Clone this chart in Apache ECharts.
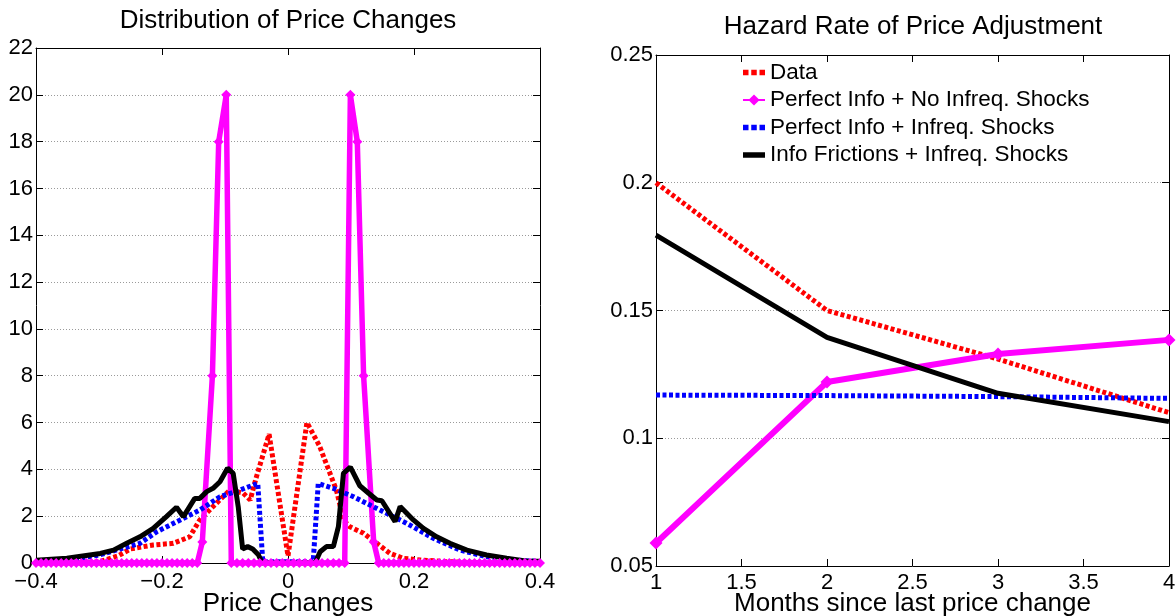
<!DOCTYPE html>
<html>
<head>
<meta charset="utf-8">
<script src="https://cdn.jsdelivr.net/npm/echarts@6/dist/echarts.min.js"></script>
<style>
html,body{margin:0;padding:0;background:#fff;}
#c{width:1176px;height:616px;}
</style>
</head>
<body>
<div id="c"></div>
<script>
// ---------- Left panel: Distribution of Price Changes ----------
const leftXTicks = [-0.4, -0.2, 0, 0.2, 0.4];
const dataDistX = [-0.4, -0.35, -0.3, -0.27, -0.25, -0.214, -0.182, -0.156, -0.14, -0.119, -0.092, -0.071, -0.06, -0.05, -0.03, 0, 0.03, 0.05, 0.077, 0.088, 0.098, 0.12, 0.141, 0.162, 0.183, 0.21, 0.25, 0.3, 0.35, 0.4];
const dataDistY = [0, 0, 0.05, 0.3, 0.6, 0.77, 0.84, 1.12, 1.84, 2.41, 3.12, 2.98, 2.69, 3.69, 5.5, 0.3, 6.0, 5.0, 3.1, 1.84, 1.55, 1.27, 0.84, 0.41, 0.2, 0.13, 0.06, 0.02, 0, 0];

const pinX = [-0.400, -0.392, -0.384, -0.376, -0.368, -0.360, -0.352, -0.344, -0.336, -0.328, -0.320, -0.312, -0.304, -0.296, -0.288, -0.280, -0.272, -0.264, -0.256, -0.248, -0.240, -0.232, -0.224, -0.216, -0.208, -0.200, -0.192, -0.184, -0.176, -0.168, -0.160, -0.152, -0.144,
  -0.136, -0.120, -0.110, -0.098,
  -0.090, -0.081, -0.072, -0.063, -0.054, -0.045, -0.036, -0.027, -0.018, -0.009, 0, 0.009, 0.018, 0.027, 0.036, 0.045, 0.054, 0.063, 0.072, 0.081, 0.090,
  0.099, 0.110, 0.120, 0.136,
  0.144, 0.152, 0.160, 0.168, 0.176, 0.184, 0.192, 0.200, 0.208, 0.216, 0.224, 0.232, 0.240, 0.248, 0.256, 0.264, 0.272, 0.280, 0.288, 0.296, 0.304, 0.312, 0.320, 0.328, 0.336, 0.344, 0.352, 0.360, 0.368, 0.376, 0.384, 0.392, 0.400];
const pinY = [0,0,0,0,0,0,0,0,0,0,0,0,0,0,0,0,0,0,0,0,0,0,0,0,0,0,0,0,0,0,0,0,0,
  0.9, 8, 18, 20,
  0,0,0,0,0,0,0,0,0,0,0,0,0,0,0,0,0,0,0,0,0,
  20, 18, 8, 0.9,
  0,0,0,0,0,0,0,0,0,0,0,0,0,0,0,0,0,0,0,0,0,0,0,0,0,0,0,0,0,0,0,0,0];

const piiX = [-0.4, -0.35, -0.3, -0.235, -0.208, -0.171, -0.14, -0.108, -0.076, -0.048, -0.04, 0, 0.04, 0.048, 0.072, 0.104, 0.146, 0.188, 0.231, 0.273, 0.315, 0.358, 0.4];
const piiY = [0.03, 0.13, 0.34, 0.84, 1.34, 1.84, 2.26, 2.83, 3.12, 3.4, 0.05, 0.05, 0.05, 3.4, 3.19, 2.83, 2.26, 1.7, 1.05, 0.55, 0.27, 0.13, 0.06];

const ifX = [-0.4, -0.351, -0.298, -0.277, -0.256, -0.235, -0.214, -0.193, -0.177, -0.166, -0.148, -0.14, -0.129, -0.119, -0.108, -0.096, -0.087, -0.079, -0.072, -0.064, -0.056, -0.047, -0.041, 0, 0.043, 0.051, 0.061, 0.072, 0.080, 0.088, 0.099, 0.114, 0.128, 0.141, 0.149, 0.170, 0.178, 0.199, 0.215, 0.236, 0.257, 0.284, 0.315, 0.347, 0.379, 0.4];
const ifY = [0.12, 0.2, 0.41, 0.55, 0.84, 1.12, 1.48, 1.98, 2.38, 1.98, 2.76, 2.76, 3.05, 3.19, 3.47, 4.05, 3.83, 2.4, 0.6, 0.7, 0.6, 0.35, 0, 0, 0, 0.48, 0.7, 0.7, 1.55, 3.83, 4.1, 3.3, 2.98, 2.69, 2.66, 1.77, 2.41, 1.84, 1.48, 1.12, 0.84, 0.55, 0.34, 0.2, 0.08, 0.08];

// ---------- Right panel: Hazard Rate ----------
const months = [1, 2, 3, 4];
const hazardData = [0.2, 0.15, 0.131, 0.110];
const hazardPerfectNoInfreq = [0.059, 0.122, 0.133, 0.1385];
const hazardPerfectInfreq = [0.1169, 0.1167, 0.1163, 0.1156];
const hazardFrictions = [0.1795, 0.1395, 0.1176, 0.1065];

const names = ['Data', 'Perfect Info + No Infreq. Shocks', 'Perfect Info + Infreq. Shocks', 'Info Frictions + Infreq. Shocks'];

const FONT = '"Liberation Sans", Arial, Helvetica, sans-serif';
const pairs = (xs, ys) => xs.map((x, i) => [x, ys[i]]);

const axisLine = { show: true, onZero: false, lineStyle: { color: '#000', width: 1 } };
const tickIn = { show: true, inside: true, length: 7, lineStyle: { color: '#000' } };
const gridDots = { show: true, lineStyle: { color: '#9a9a9a', width: 1, type: [1, 2] } };
const lblStyle = { color: '#000', fontSize: 22, fontFamily: FONT };

const fmtX = v => { const r = Math.round(v * 10) / 10; return (r < 0 ? '\u2212' : '') + Math.abs(r); };
const fmtRight = v => String(parseFloat(v.toFixed(2)));
const fmtRightX = v => String(parseFloat(v.toFixed(1)));

const chart = echarts.init(document.getElementById('c'), null, { renderer: 'canvas' });

const redStyle = { color: '#ff0000', width: 5, type: [4, 2.5], cap: 'butt' };
const magStyle = { color: '#ff00ff', width: 5.5 };
const blueStyle = { color: '#0000ff', width: 5, type: [4, 2.5], cap: 'butt' };
const blackStyle = { color: '#000000', width: 5 };

const dashIcon = 'path://M0,0h5v5h-5z M7.5,0h5v5h-5z M15,0h5v5h-5z';
const solidIcon = 'path://M0,0h20v5h-20z';

chart.setOption({
  animation: false,
  backgroundColor: '#fff',
  graphic: [
    { type: 'text', x: 288, y: 21, style: { text: 'Distribution of Price Changes', font: '26px ' + FONT, fill: '#000', textAlign: 'center', textVerticalAlign: 'middle' } },
    { type: 'text', x: 913, y: 27, style: { text: 'Hazard Rate of Price Adjustment', font: '26px ' + FONT, fill: '#000', textAlign: 'center', textVerticalAlign: 'middle' } }
  ],
  legend: {
    orient: 'vertical',
    left: 737, top: 56,
    itemWidth: 22, itemHeight: 14, itemGap: 4.5,
    textStyle: { color: '#000', fontSize: 22.5, fontFamily: FONT, lineHeight: 22 },
    data: [
      { name: names[0], icon: dashIcon, itemStyle: { color: '#ff0000' } },
      { name: names[1] },
      { name: names[2], icon: dashIcon, itemStyle: { color: '#0000ff' } },
      { name: names[3], icon: solidIcon, itemStyle: { color: '#000' } }
    ]
  },
  grid: [
    { left: 36, right: 636, top: 48, bottom: 53, containLabel: false, outerBoundsMode: 'none' },
    { left: 656, right: 7, top: 55, bottom: 50, containLabel: false, outerBoundsMode: 'none' }
  ],
  xAxis: [
    { type: 'value', gridIndex: 0, min: -0.4, max: 0.4, interval: 0.2, position: 'bottom',
      axisLine, axisTick: tickIn, splitLine: { show: false },
      axisLabel: { ...lblStyle, margin: 8, formatter: fmtX, showMinLabel: true, showMaxLabel: true },
      name: 'Price Changes', nameLocation: 'middle', nameGap: 28, nameMoveOverlap: false,
      nameTextStyle: { color: '#000', fontSize: 26, fontFamily: FONT, verticalAlign: 'top' } },
    { type: 'value', gridIndex: 0, min: -0.4, max: 0.4, interval: 0.2, position: 'top',
      axisLine, axisTick: tickIn, splitLine: { show: false }, axisLabel: { show: false } },
    { type: 'value', gridIndex: 1, min: 1, max: 4, interval: 0.5, position: 'bottom',
      axisLine, axisTick: tickIn, splitLine: { show: false },
      axisLabel: { ...lblStyle, margin: 6, formatter: fmtRightX, showMinLabel: true, showMaxLabel: true },
      name: 'Months since last price change', nameLocation: 'middle', nameGap: 25, nameMoveOverlap: false,
      nameTextStyle: { color: '#000', fontSize: 26, fontFamily: FONT, verticalAlign: 'top' } },
    { type: 'value', gridIndex: 1, min: 1, max: 4, interval: 0.5, position: 'top',
      axisLine, axisTick: tickIn, splitLine: { show: false }, axisLabel: { show: false } }
  ],
  yAxis: [
    { type: 'value', gridIndex: 0, min: 0, max: 22, interval: 2, position: 'left',
      axisLine, axisTick: tickIn, splitLine: gridDots,
      axisLabel: { ...lblStyle, margin: 3, showMinLabel: true, showMaxLabel: true } },
    { type: 'value', gridIndex: 0, min: 0, max: 22, interval: 2, position: 'right',
      axisLine, axisTick: tickIn, splitLine: { show: false }, axisLabel: { show: false } },
    { type: 'value', gridIndex: 1, min: 0.05, max: 0.25, interval: 0.05, position: 'left',
      axisLine, axisTick: tickIn, splitLine: gridDots,
      axisLabel: { ...lblStyle, margin: 3, formatter: fmtRight, showMinLabel: true, showMaxLabel: true } },
    { type: 'value', gridIndex: 1, min: 0.05, max: 0.25, interval: 0.05, position: 'right',
      axisLine, axisTick: tickIn, splitLine: { show: false }, axisLabel: { show: false } }
  ],
  series: [
    { name: names[0], type: 'line', xAxisIndex: 0, yAxisIndex: 0, data: pairs(dataDistX, dataDistY),
      symbol: 'none', lineStyle: redStyle, itemStyle: { color: '#ff0000' } },
    { name: names[1], type: 'line', xAxisIndex: 0, yAxisIndex: 0, data: pairs(pinX, pinY),
      symbol: 'diamond', symbolSize: 10, showAllSymbol: true, lineStyle: magStyle, itemStyle: { color: '#ff00ff' } },
    { name: names[2], type: 'line', xAxisIndex: 0, yAxisIndex: 0, data: pairs(piiX, piiY),
      symbol: 'none', lineStyle: blueStyle, itemStyle: { color: '#0000ff' } },
    { name: names[3], type: 'line', xAxisIndex: 0, yAxisIndex: 0, data: pairs(ifX, ifY),
      symbol: 'none', lineStyle: blackStyle, itemStyle: { color: '#000' } },

    { name: names[0], type: 'line', xAxisIndex: 2, yAxisIndex: 2, data: pairs(months, hazardData),
      symbol: 'none', lineStyle: redStyle, itemStyle: { color: '#ff0000' } },
    { name: names[1], type: 'line', xAxisIndex: 2, yAxisIndex: 2, data: pairs(months, hazardPerfectNoInfreq),
      symbol: 'diamond', symbolSize: 13, lineStyle: { color: '#ff00ff', width: 6 }, itemStyle: { color: '#ff00ff' } },
    { name: names[2], type: 'line', xAxisIndex: 2, yAxisIndex: 2, data: pairs(months, hazardPerfectInfreq),
      symbol: 'none', lineStyle: blueStyle, itemStyle: { color: '#0000ff' } },
    { name: names[3], type: 'line', xAxisIndex: 2, yAxisIndex: 2, data: pairs(months, hazardFrictions),
      symbol: 'none', lineStyle: blackStyle, itemStyle: { color: '#000' } }
  ]
});
</script>
</body>
</html>
